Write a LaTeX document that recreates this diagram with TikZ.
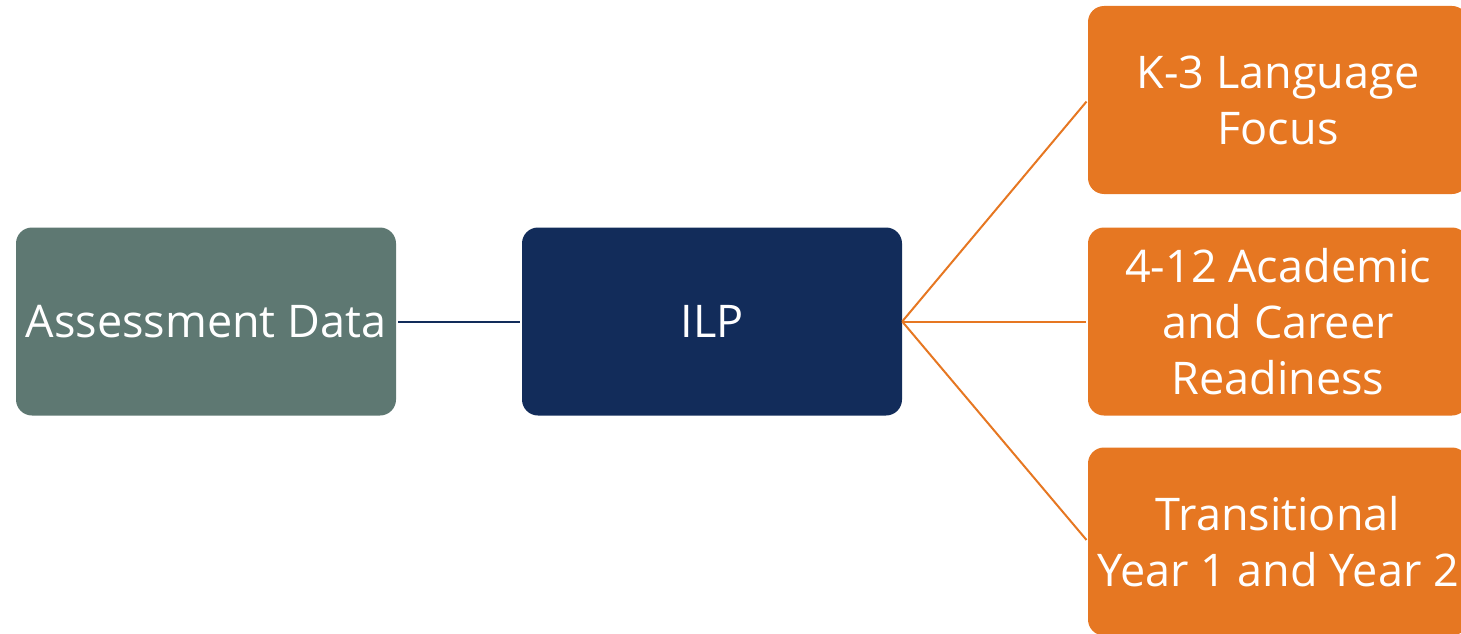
\documentclass[tikz,border=0pt]{standalone}
\usepackage{fontspec}
\setmainfont{Open Sans}
\definecolor{teal}{HTML}{5E7872}
\definecolor{navy}{HTML}{122C5A}
\definecolor{orng}{HTML}{E67722}
\begin{document}
\begin{tikzpicture}[x=1pt,y=-1pt,
  box/.style={rounded corners=16pt, minimum width=380pt, minimum height=188pt, inner sep=0pt,
    text=white, align=center, font=\fontsize{45}{56}\selectfont},
  link/.style={line width=2pt, shorten <=2pt, shorten >=2pt}]
\useasboundingbox (0,0) rectangle (1461,634);
\begin{scope}
\clip (0,0) rectangle (1461,634);
\node[box, fill=teal] (ad) at (206,321.5) {Assessment Data};
\node[box, fill=navy] (ilp) at (712,321.5) {ILP};
\node[box, fill=orng] (k3) at (1278,100) {K-3 Language\\Focus};
\node[box, fill=orng] (ac) at (1278,321.5) {4-12 Academic\\and Career\\Readiness};
\node[box, fill=orng] (ty) at (1278,541.5) {Transitional\\Year 1 and Year 2};
\draw[link, navy] (ad.east) -- (ilp.west);
\draw[link, orng, shorten <=0pt] (ilp.east) -- (k3.west);
\draw[link, orng, shorten <=0pt] (ilp.east) -- (ac.west);
\draw[link, orng, shorten <=0pt] (ilp.east) -- (ty.west);
\end{scope}
\end{tikzpicture}
\end{document}
